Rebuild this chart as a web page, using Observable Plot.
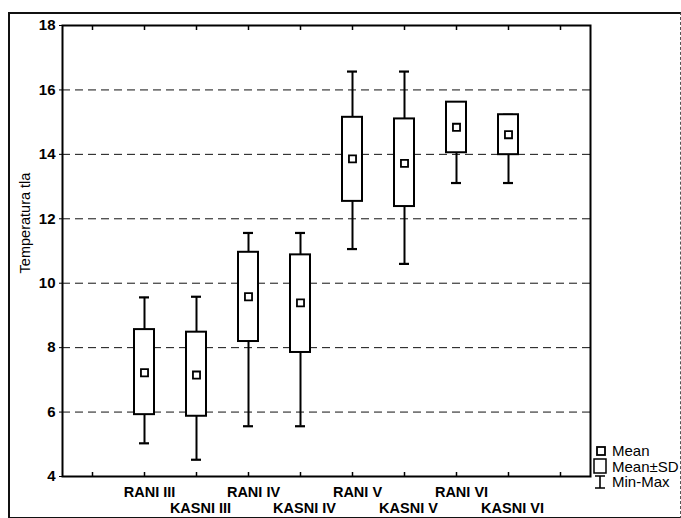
<!DOCTYPE html>
<html>
<head>
<meta charset="utf-8">
<script src="https://cdn.jsdelivr.net/npm/d3@7"></script>
<script src="https://cdn.jsdelivr.net/npm/@observablehq/plot@0.6"></script>
<style>
  html, body { margin: 0; padding: 0; background: #fff; }
  #wrap { position: relative; width: 681px; height: 518px; overflow: hidden; font-family: "Liberation Sans", Arial, sans-serif; }
  #wrap svg { position: absolute; left: 0; top: 0; }
  #border { position: absolute; left: 8px; top: 12px; width: 670px; height: 503px; border: 2px solid #111; border-right: 1px dashed #555; pointer-events: none; }
  #legend { position: absolute; left: 592px; top: 443px; font-size: 15px; color: #000; line-height: 15.5px; }
  #legend .row { display: flex; align-items: center; height: 15.5px; }
  #legend svg { position: static; margin-right: 4px; }
</style>
</head>
<body>
<div id="wrap">
  <div id="border"></div>
  <div id="legend">
    <div class="row"><svg width="16" height="14"><rect x="5" y="3" width="8" height="8" fill="#fff" stroke="#000" stroke-width="1.8"/></svg><span>Mean</span></div>
    <div class="row"><svg width="16" height="16"><rect x="2" y="1" width="12" height="14" fill="#fff" stroke="#000" stroke-width="1.5"/></svg><span>Mean±SD</span></div>
    <div class="row"><svg width="16" height="16"><path d="M3,2H13M8,2V14M3,14H13" fill="none" stroke="#000" stroke-width="1.6"/></svg><span>Min-Max</span></div>
  </div>
</div>
<script>
const categories = ["RANI III","KASNI III","RANI IV","KASNI IV","RANI V","KASNI V","RANI VI","KASNI VI"];
const means  = [7.22, 7.15, 9.58, 9.39, 13.86, 13.72, 14.84, 14.61];
const sdLow  = [5.92, 5.87, 8.19, 7.85, 12.54, 12.38, 14.05, 13.99];
const sdHigh = [8.56, 8.48, 10.96, 10.88, 15.15, 15.10, 15.62, 15.23];
const mins   = [5.03, 4.52, 5.56, 5.56, 11.06, 10.60, 13.11, 13.11];
const maxs   = [9.56, 9.58, 11.56, 11.56, 16.57, 16.57, 15.62, 15.23];
const yTicks = [4, 6, 8, 10, 12, 14, 16, 18];
const gridValues = [6, 8, 10, 12, 14, 16];
const yLabel = "Temperatura tla";

const xDomain = ["\u200b", ...categories, "\u200b\u200b"];
const rows = categories.map((c, i) => ({cat: c, mean: means[i], lo: sdLow[i], hi: sdHigh[i], min: mins[i], max: maxs[i]}));
const rowOne = categories.filter((c, i) => i % 2 === 0);
const rowTwo = categories.filter((c, i) => i % 2 === 1);

const font = "Liberation Sans, Arial, sans-serif";

const chart = Plot.plot({
  width: 681,
  height: 518,
  marginLeft: 62,
  marginRight: 91,
  marginTop: 25,
  marginBottom: 42,
  style: {fontFamily: font, background: "transparent", color: "#000"},
  x: {type: "band", domain: xDomain, padding: 0},
  y: {domain: [4, 18]},
  marks: [
    Plot.ruleY(gridValues, {stroke: "#111", strokeWidth: 1, strokeDasharray: "8,5"}),
    Plot.ruleX(rows, {x: "cat", y1: "min", y2: "max", stroke: "#000", strokeWidth: 2}),
    Plot.tickY(rows, {x: "cat", y: "min", stroke: "#000", strokeWidth: 2.2, insetLeft: 21, insetRight: 21}),
    Plot.tickY(rows, {x: "cat", y: "max", stroke: "#000", strokeWidth: 2.2, insetLeft: 21, insetRight: 21}),
    Plot.barY(rows, {x: "cat", y1: "lo", y2: "hi", fill: "#fff", stroke: "#000", strokeWidth: 2, insetLeft: 16, insetRight: 16}),
    Plot.dot(rows, {x: "cat", y: "mean", symbol: "square", r: 4, fill: "#fff", stroke: "#000", strokeWidth: 1.8}),
    Plot.frame({stroke: "#000", strokeWidth: 2}),
    Plot.axisY(yTicks, {anchor: "left", tickSize: 3, tickPadding: 4, fontSize: 15, fontWeight: "bold", label: null}),
    Plot.axisX({anchor: "bottom", tickSize: -4, tickFormat: () => "", label: null, strokeWidth: 1.5}),
    Plot.axisX({anchor: "top", tickSize: -4, tickFormat: () => "", label: null, strokeWidth: 1.5}),
    Plot.axisX(rowOne, {anchor: "bottom", tickSize: 0, tickPadding: 10, dx: 5, fontSize: 14.5, fontWeight: "bold", label: null}),
    Plot.axisX(rowTwo, {anchor: "bottom", tickSize: 0, tickPadding: 26, dx: 4, fontSize: 14.5, fontWeight: "bold", label: null}),
    Plot.text([yLabel], {frameAnchor: "left", textAnchor: "middle", rotate: -90, dx: -37, dy: -28, fontSize: 14.5, text: d => d})
  ]
});
document.getElementById("wrap").insertBefore(chart, document.getElementById("border"));
</script>
</body>
</html>
